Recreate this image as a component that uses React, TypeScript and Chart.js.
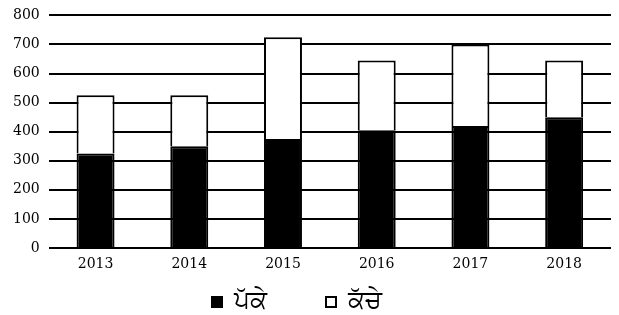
import React, { useEffect, useRef } from "react";
import { Chart, registerables } from "chart.js";

Chart.register(...registerables);

const years = ["2013", "2014", "2015", "2016", "2017", "2018"];
const pakke = [325, 350, 375, 405, 420, 450];
const kachhe = [200, 175, 350, 240, 280, 195];
const yTicks = [0, 100, 200, 300, 400, 500, 600, 700, 800];
const seriesNames = ["ਪੱਕੇ", "ਕੱਚੇ"];

const legendPlugin = {
  id: "customLegend",
  afterDraw(chart: any) {
    const ctx = chart.ctx;
    const fontSize = 25;
    const box = 12;
    const gap = 11;
    const itemGap = 58;
    ctx.save();
    ctx.font = `${fontSize}px "Noto Sans", sans-serif`;
    ctx.textBaseline = "middle";
    ctx.textAlign = "left";
    const items = chart.data.datasets.map((ds: any) => ({
      text: ds.label,
      fill: ds.backgroundColor,
      stroke: ds.borderColor,
      w: box + gap + ctx.measureText(ds.label).width,
    }));
    const total =
      items.reduce((s: number, it: any) => s + it.w, 0) + itemGap * (items.length - 1);
    let x = chart.width / 2 - 13 - total / 2;
    const cy = chart.chartArea.bottom + 54;
    items.forEach((it: any) => {
      ctx.fillStyle = it.fill;
      ctx.fillRect(x, cy - box / 2, box, box);
      ctx.strokeStyle = it.stroke;
      ctx.lineWidth = 2;
      ctx.strokeRect(x + 1, cy - box / 2 + 1, box - 2, box - 2);
      ctx.fillStyle = "#000";
      ctx.fillText(it.text, x + box + gap, cy - 1);
      x += it.w + itemGap;
    });
    ctx.restore();
  },
};

export default function App() {
  const ref = useRef<HTMLCanvasElement | null>(null);
  useEffect(() => {
    if (!ref.current) return;
    const chart = new Chart(ref.current, {
      type: "bar",
      data: {
        labels: years,
        datasets: [
          {
            label: seriesNames[0],
            data: pakke,
            backgroundColor: "#000",
            borderColor: "#000",
            borderWidth: 2,
          },
          {
            label: seriesNames[1],
            data: kachhe,
            backgroundColor: "#fff",
            borderColor: "#000",
            borderWidth: 2,
          },
        ],
      },
      options: {
        animation: false,
        responsive: true,
        maintainAspectRatio: false,
        layout: { padding: { top: 0, right: 0, left: 0, bottom: 37 } },
        datasets: {
          bar: { categoryPercentage: 1, barPercentage: 0.405 },
        },
        scales: {
          x: {
            stacked: true,
            grid: { display: false, drawTicks: false },
            border: { display: false },
            afterFit: (axis: any) => {
              axis.height = 30;
            },
            ticks: {
              color: "#000",
              font: { family: "DejaVu Serif", size: 14 },
              padding: 8,
            },
          },
          y: {
            stacked: true,
            min: 0,
            max: 800,
            afterBuildTicks: (axis: any) => {
              axis.ticks = yTicks.map((v) => ({ value: v }));
            },
            afterFit: (axis: any) => {
              axis.width = 40.7;
            },
            grid: { color: "#000", lineWidth: 2, drawTicks: false },
            border: { display: false },
            ticks: {
              color: "#000",
              font: { family: "DejaVu Serif", size: 14 },
              padding: 9,
            },
          },
        },
        plugins: {
          legend: { display: false },
          tooltip: { enabled: false },
        },
      },
      plugins: [legendPlugin],
    });
    return () => chart.destroy();
  }, []);
  return (
    <div style={{ width: 603, height: 317, marginTop: -10 }}>
      <canvas ref={ref} />
    </div>
  );
}
